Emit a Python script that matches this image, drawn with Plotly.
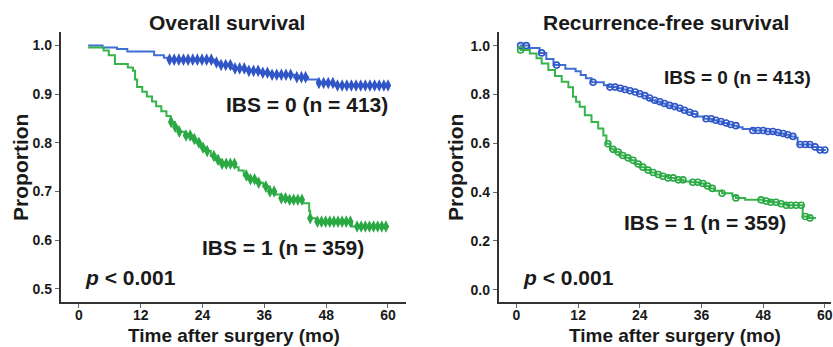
import numpy as np
import plotly.graph_objects as go

# ---------------- data ----------------
# Overall survival, IBS = 0
os0_t = [1.8, 4.6, 7.4, 9.4, 14.6, 16.5, 17.3, 26.3, 27.5, 29.5, 32.5, 35.0, 37.5, 41.8, 44.5, 46.3, 49.5]
os0_s = [1.000, 0.996, 0.993, 0.988, 0.980, 0.975, 0.971, 0.965, 0.960, 0.953, 0.948, 0.944, 0.940, 0.935, 0.930, 0.923, 0.918]
os0_end = 60.2
os0_cens = [17.6, 18.5, 19.4, 20.3, 21.2, 22.1, 23.0, 23.9, 24.8, 25.7, 26.7, 27.6, 28.5, 29.4,
            30.3, 31.2, 32.1, 33.0, 33.9, 34.8, 35.7, 36.6, 37.5, 38.4, 39.3, 40.2, 41.1, 42.3,
            43.2, 44.0, 46.6, 47.5, 48.4, 49.3, 50.2, 51.1, 52.0, 52.9, 53.8, 54.7, 55.6, 56.5,
            57.4, 58.3, 59.2, 60.0]

# Overall survival, IBS = 1
os1_t = [1.8, 4.8, 5.8, 7.0, 9.5, 10.5, 10.9, 11.3, 12.3, 13.2, 14.2, 15.0, 16.0, 17.0, 17.8,
         18.5, 19.2, 20.5, 21.8, 22.8, 23.7, 24.5, 25.6, 26.5, 27.5, 30.5, 31.0, 32.0, 32.8,
         34.5, 35.8, 37.0, 38.2, 39.3, 40.5, 43.5, 44.7, 44.9, 46.0, 53.0]
os1_s = [0.996, 0.990, 0.980, 0.962, 0.955, 0.948, 0.930, 0.915, 0.905, 0.895, 0.885, 0.875,
         0.865, 0.855, 0.843, 0.833, 0.823, 0.815, 0.808, 0.800, 0.790, 0.783, 0.773, 0.765,
         0.757, 0.750, 0.743, 0.733, 0.725, 0.718, 0.710, 0.700, 0.694, 0.686, 0.683, 0.676,
         0.660, 0.645, 0.638, 0.628]
os1_end = 60.2
os1_cens = [17.9, 18.7, 19.5, 20.8, 21.6, 22.4, 23.3, 24.1, 24.9, 26.2, 27.0, 27.8, 28.6, 29.4,
            30.2, 32.5, 33.3, 34.1, 34.9, 36.3, 37.1, 37.9, 39.3, 40.1, 40.9, 41.7, 42.5, 43.3,
            44.9, 46.3, 47.1, 47.9, 48.7, 49.5, 50.3, 51.1, 51.9, 52.7, 54.0, 54.8, 55.6, 56.4,
            57.2, 58.0, 58.8, 59.6]

# Recurrence-free survival, IBS = 0
rfs0_t = [0.6, 2.5, 4.5, 5.8, 7.2, 9.5, 11.5, 12.5, 13.5, 14.6, 17.0, 18.0, 19.5, 20.5, 21.5,
          22.5, 23.5, 24.5, 25.3, 26.0, 27.0, 28.0, 29.0, 30.0, 31.0, 32.0, 33.0, 34.0, 35.0,
          36.5, 38.0, 39.0, 40.0, 41.0, 42.0, 43.0, 44.0, 46.0, 48.5, 50.0, 51.0, 52.0, 53.0,
          54.2, 54.7, 57.5, 58.5]
rfs0_s = [1.000, 0.990, 0.970, 0.945, 0.920, 0.905, 0.895, 0.880, 0.866, 0.850, 0.838, 0.830,
          0.825, 0.820, 0.815, 0.810, 0.803, 0.795, 0.785, 0.776, 0.770, 0.763, 0.755, 0.750,
          0.743, 0.735, 0.727, 0.720, 0.710, 0.700, 0.694, 0.689, 0.683, 0.677, 0.672, 0.665,
          0.658, 0.652, 0.648, 0.644, 0.640, 0.635, 0.628, 0.622, 0.595, 0.585, 0.572]
rfs0_end = 60.2
rfs0_cens = [0.8, 1.9, 4.9, 7.8, 14.9, 18.2, 19.2, 20.2, 21.1, 22.1, 23.1, 24.0, 25.0, 25.9,
             26.9, 27.9, 28.8, 29.8, 30.8, 31.8, 32.7, 33.7, 34.7, 36.9, 37.9, 38.8, 39.8,
             40.8, 41.7, 42.7, 46.0, 47.0, 48.0, 48.9, 49.9, 50.9, 51.9, 52.8, 53.8, 55.2,
             56.2, 57.1, 58.1, 59.1, 60.0]

# Recurrence-free survival, IBS = 1
rfs1_t = [0.6, 2.6, 3.9, 4.9, 6.2, 7.5, 8.8, 10.1, 11.0, 11.6, 12.3, 13.3, 14.6, 15.9, 16.9,
          17.5, 18.2, 19.0, 20.0, 21.0, 22.0, 23.0, 24.0, 25.0, 26.0, 27.0, 28.0, 29.5, 31.0,
          32.5, 34.0, 35.5, 36.5, 37.5, 38.5, 40.0, 42.0, 42.7, 44.5, 48.0, 49.5, 51.0, 52.5,
          55.7, 57.0]
rfs1_s = [0.982, 0.968, 0.948, 0.927, 0.900, 0.875, 0.852, 0.829, 0.790, 0.770, 0.749, 0.715,
          0.687, 0.660, 0.632, 0.598, 0.575, 0.564, 0.550, 0.540, 0.530, 0.515, 0.502, 0.490,
          0.480, 0.472, 0.465, 0.458, 0.450, 0.443, 0.440, 0.435, 0.425, 0.415, 0.405, 0.395,
          0.385, 0.376, 0.368, 0.363, 0.358, 0.352, 0.346, 0.300, 0.294]
rfs1_end = 58.3
rfs1_cens = [0.8, 17.8, 18.8, 19.8, 20.7, 21.7, 22.7, 23.7, 24.6, 25.6, 26.6, 27.6, 28.5, 29.5,
             30.5, 31.5, 32.4, 34.3, 35.3, 36.3, 37.2, 38.1, 40.0, 42.7, 47.6, 48.6, 49.5,
             50.5, 51.5, 52.5, 53.4, 54.4, 55.4, 56.2, 57.1]

x_ticks = [0, 12, 24, 36, 48, 60]
os_yticks = [0.5, 0.6, 0.7, 0.8, 0.9, 1.0]
rfs_yticks = [0.0, 0.2, 0.4, 0.6, 0.8, 1.0]

# ---------------- styles ----------------
BLUE_LINE = "#3f6fd3"
BLUE_MK = "#2f55c6"
GREEN_LINE = "#34b44a"
GREEN_MK = "#2aa844"
TXT = "#1a1a1a"
FONT = "Liberation Sans, Arial, sans-serif"


def step_xy(t, s, end):
    return list(t) + [end], list(s) + [s[-1]]


def lookup(t, s, c):
    idx = np.searchsorted(np.array(t), np.array(c), side="right") - 1
    idx = np.clip(idx, 0, len(s) - 1)
    return [s[i] for i in idx]


fig = go.Figure()

panels = [
    ("x", "y", (os0_t, os0_s, os0_end, os0_cens), (os1_t, os1_s, os1_end, os1_cens),
     dict(symbol="diamond-tall", size=9), True),
    ("x2", "y2", (rfs0_t, rfs0_s, rfs0_end, rfs0_cens), (rfs1_t, rfs1_s, rfs1_end, rfs1_cens),
     dict(symbol="circle-open", size=6), False),
]

for xa, ya, g0, g1, mk, filled in panels:
    for (t, s, end, cens), lc, mc in [(g0, BLUE_LINE, BLUE_MK), (g1, GREEN_LINE, GREEN_MK)]:
        xs, ys = step_xy(t, s, end)
        fig.add_trace(go.Scatter(x=xs, y=ys, mode="lines", line=dict(color=lc, width=2, shape="hv"),
                                 xaxis=xa, yaxis=ya, showlegend=False, hoverinfo="skip"))
        m = dict(symbol=mk["symbol"], size=mk["size"], color=mc)
        if filled:
            m["line"] = dict(width=0)
        else:
            m["line"] = dict(width=1.6, color=mc)
        fig.add_trace(go.Scatter(x=cens, y=lookup(t, s, cens), mode="markers", marker=m,
                                 xaxis=xa, yaxis=ya, showlegend=False, hoverinfo="skip"))

axis_common = dict(showline=True, linecolor="#333333", linewidth=2, ticks="outside",
                   ticklen=4, tickwidth=1, tickcolor="#666666", showgrid=False, zeroline=False,
                   ticklabeloverflow="allow",
                   tickfont=dict(family=FONT, size=14, color=TXT, weight="bold"))

ydom = [0.130, 0.908]
fig.update_layout(
    width=833, height=347,
    margin=dict(l=0, r=0, t=0, b=0),
    paper_bgcolor="white", plot_bgcolor="white",
    xaxis=dict(domain=[61 / 833, 407 / 833], range=[-3.5, 63.5], tickvals=x_ticks,
               anchor="y", ticklabelstandoff=-5, **axis_common),
    yaxis=dict(domain=ydom, range=[0.473, 1.028], tickvals=os_yticks, tickformat=".1f",
               anchor="x", **axis_common),
    xaxis2=dict(domain=[500 / 833, 1.0], range=[-3.44, 61.2], tickvals=x_ticks,
                anchor="y2", ticklabelstandoff=-5, **axis_common),
    yaxis2=dict(domain=ydom, range=[-0.05, 1.056], tickvals=rfs_yticks, tickformat=".1f",
                anchor="x2", **axis_common),
)


def ann(text, x, y, size=21, xanchor="left", angle=0):
    fig.add_annotation(text=text, x=x / 833, y=1 - y / 347, xref="paper", yref="paper",
                       xanchor=xanchor, yanchor="middle", showarrow=False, textangle=angle,
                       font=dict(family=FONT, size=size, color=TXT, weight="bold"))


ann("Overall survival", 228, 22, xanchor="center")
ann("Recurrence-free survival", 668, 22, xanchor="center")
ann("Time after surgery (mo)", 235, 335.5, size=19, xanchor="center")
ann("Time after surgery (mo)", 677, 335.5, size=19, xanchor="center")
ann("Proportion", 20, 167, xanchor="center", angle=-90)
ann("Proportion", 456, 167, xanchor="center", angle=-90)
ann("IBS = 0 (n = 413)", 225, 105)
ann("IBS = 1 (n = 359)", 200, 247)
ann("<i>p</i> < 0.001", 83, 277)
ann("IBS = 0 (n = 413)", 664, 77, size=19)
ann("IBS = 1 (n = 359)", 623, 222)
ann("<i>p</i> < 0.001", 522, 277)

fig.write_html("out.html", config={"displayModeBar": False},
               post_script="document.body.style.margin='0';document.body.style.overflow='hidden';")
